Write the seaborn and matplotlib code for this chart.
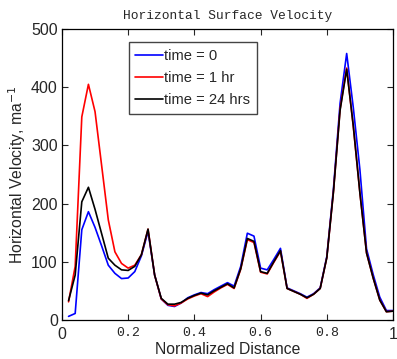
import numpy as np
import pandas as pd
import seaborn as sns
import matplotlib
matplotlib.use("Agg")
import matplotlib.pyplot as plt

# normalized distance along the profile
distance = [0.02, 0.04, 0.06, 0.08, 0.10, 0.12, 0.14, 0.16, 0.18, 0.20,
            0.22, 0.24, 0.26, 0.28, 0.30, 0.32, 0.34, 0.36, 0.38, 0.40,
            0.42, 0.44, 0.46, 0.48, 0.50, 0.52, 0.54, 0.56, 0.58, 0.60,
            0.62, 0.64, 0.66, 0.68, 0.70, 0.72, 0.74, 0.76, 0.78, 0.80,
            0.82, 0.84, 0.86, 0.88, 0.90, 0.92, 0.94, 0.96, 0.98, 1.00]

vel_t0 = [6, 11, 155, 186, 159, 127, 94, 80, 71, 72,
          83, 110, 152, 77, 36, 25, 23, 29, 38, 43,
          47, 45, 52, 58, 64, 58, 92, 149, 144, 89,
          86, 104, 123, 55, 50, 45, 39, 45, 55, 109,
          225, 372, 458, 365, 258, 122, 78, 39, 16, 16]

vel_1hr = [31, 92, 349, 405, 358, 265, 172, 117, 97, 89,
           94, 112, 156, 77, 36, 26, 24, 29, 36, 41,
           45, 40, 48, 55, 61, 54, 87, 138, 133, 82,
           79, 99, 118, 54, 49, 44, 37, 44, 54, 107,
           220, 362, 433, 332, 218, 115, 72, 34, 14, 15]

vel_24hr = [33, 77, 203, 228, 190, 148, 106, 94, 86, 85,
            92, 112, 156, 77, 37, 27, 27, 30, 37, 42,
            46, 43, 50, 56, 62, 55, 88, 140, 135, 83,
            80, 100, 119, 54, 49, 44, 38, 44, 54, 107,
            220, 360, 431, 334, 218, 115, 72, 34, 14, 15]

labels = ["time = 0", "time = 1 hr", "time = 24 hrs"]
colors = ["#0000ff", "#ff0000", "#000000"]

df = pd.concat([
    pd.DataFrame({"dist": distance, "vel": v, "series": lab})
    for v, lab in zip([vel_t0, vel_1hr, vel_24hr], labels)
], ignore_index=True)

sns.set_style("ticks")
plt.rcParams["font.family"] = ["Liberation Sans", "DejaVu Sans"]
plt.rcParams["xtick.direction"] = "in"
plt.rcParams["ytick.direction"] = "in"

fig = plt.figure(figsize=(3.97, 3.59), dpi=100)
ax = fig.add_axes([0.156, 0.109, 0.834, 0.81])

sns.lineplot(data=df, x="dist", y="vel", hue="series", hue_order=labels,
             palette=dict(zip(labels, colors)), estimator=None, sort=False,
             linewidth=1.2, ax=ax)

ax.set_xlim(0, 1)
ax.set_ylim(0, 500)
ax.set_xticks([0, 0.2, 0.4, 0.6, 0.8, 1.0])
ax.set_yticks([0, 100, 200, 300, 400, 500])
ax.set_xticklabels(["0", "0.2", "0.4", "0.6", "0.8", "1"])
for t in ax.get_xticklabels():
    if t.get_text() in ("0.2", "0.4", "0.6", "0.8"):
        t.set_family("Liberation Mono")
        t.set_fontsize(9.5)
    else:
        t.set_fontsize(11.5)
for t in ax.get_yticklabels():
    t.set_fontsize(11.5)
ax.tick_params(top=True, right=True, length=4, width=0.8)
ax.tick_params(axis="x", pad=5)
ax.tick_params(axis="y", pad=3)
for s in ax.spines.values():
    s.set_linewidth(0.9)
    s.set_color("black")

ax.set_title("Horizontal Surface Velocity", family="Liberation Mono",
             fontsize=9.3, pad=7)
ax.set_xlabel("Normalized Distance", fontsize=11.3, labelpad=0)
ax.set_ylabel("Horizontal Velocity, ma$^{-1}$", fontsize=11.3, labelpad=2)

ax.legend(loc="upper left", bbox_to_anchor=(0.202, 0.955), borderaxespad=0,
          fontsize=10.6, frameon=True, fancybox=False, edgecolor="#444444",
          handlelength=1.85, handletextpad=0.1, labelspacing=0.55,
          borderpad=0.45, framealpha=1)

fig.savefig("out.png", dpi=100)
